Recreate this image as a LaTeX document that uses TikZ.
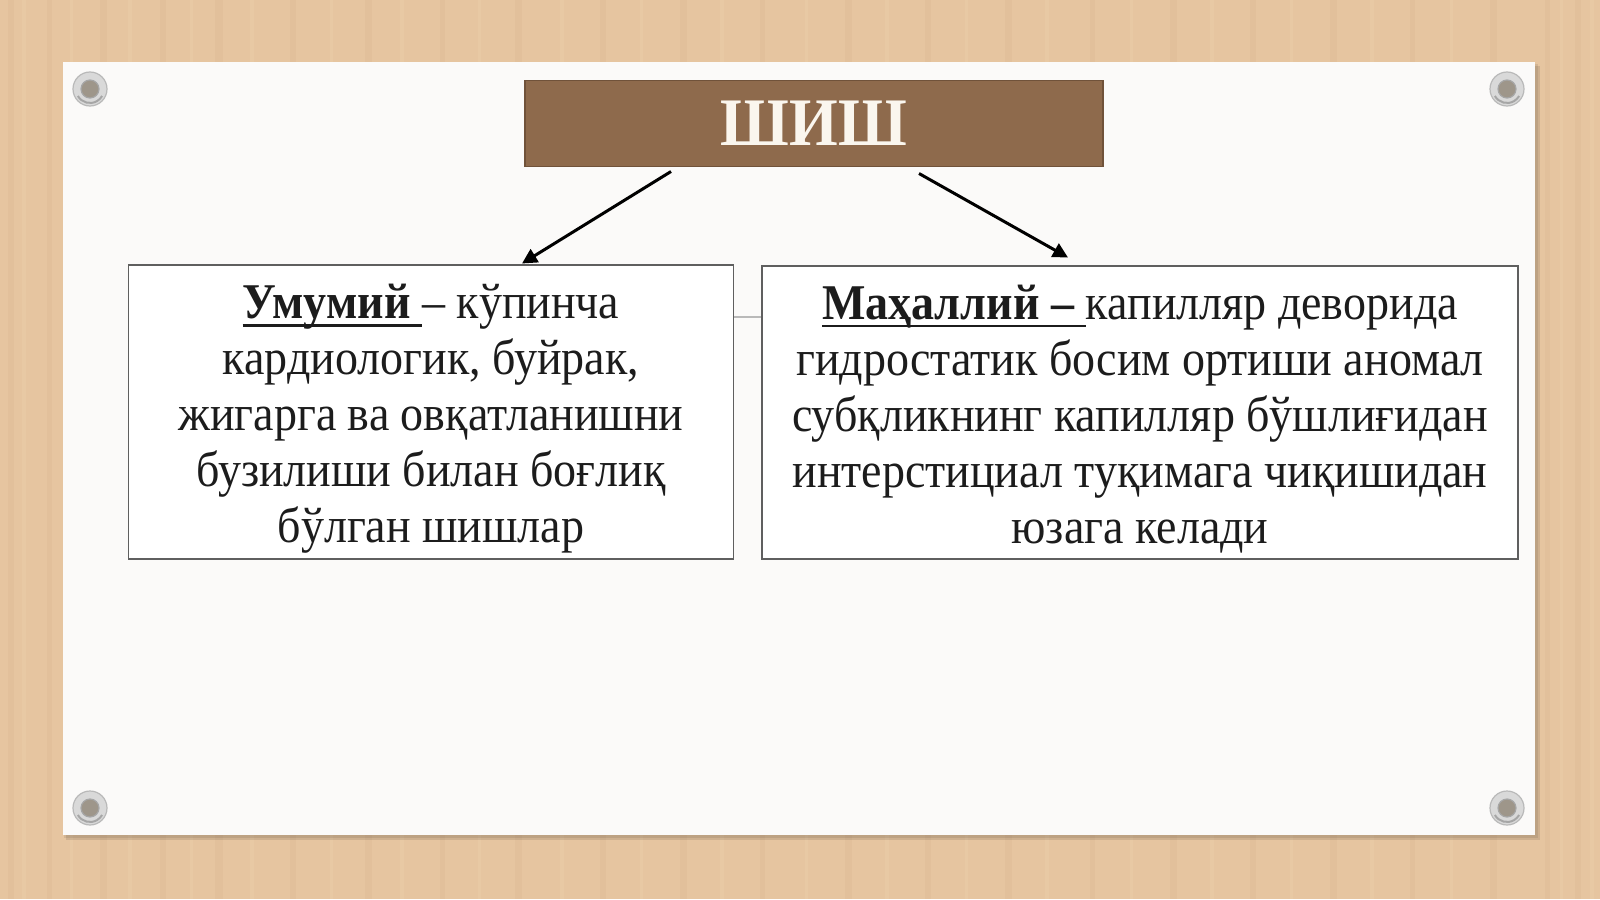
\documentclass[tikz,border=0pt]{standalone}
\usepackage{fontspec}
\setmainfont[FakeStretch=0.92]{Liberation Serif}
\usetikzlibrary{arrows.meta}
\definecolor{wood}{RGB}{230,197,160}
\definecolor{woodA}{RGB}{220,186,148}
\definecolor{woodB}{RGB}{237,207,172}
\definecolor{board}{RGB}{251,250,249}
\definecolor{titlefill}{RGB}{142,106,76}
\definecolor{titleedge}{RGB}{112,82,58}
\definecolor{titletext}{RGB}{250,246,238}
\definecolor{boxedge}{RGB}{95,95,95}
\definecolor{ink}{RGB}{28,28,28}
\definecolor{pinhole}{RGB}{158,150,138}
\newcommand\myul[1]{\setbox0\hbox{#1}\rlap{\rule[-8pt]{\wd0}{2.4pt}}\box0}
\tikzset{
  textbox/.style={draw=boxedge, line width=1.6pt, fill=white, inner sep=0pt},
  boxtext/.style={align=center, text=ink, inner sep=0pt, font=\fontsize{50}{56}\selectfont},
  conn/.style={line width=3pt, black, -{Triangle[length=15pt,width=15pt]}},
  pin/.style={circle, fill=gray!30, draw=gray!55, line width=1.2pt, minimum size=34pt, inner sep=0pt},
  pinhole/.style={circle, fill=pinhole, draw=gray!70, line width=1.2pt, minimum size=18pt, inner sep=0pt}
}
\begin{document}
\begin{tikzpicture}[x=1pt,y=-1pt]
\useasboundingbox (0,0) rectangle (1600,899);
% wood background
\fill[wood] (0,0) rectangle (1600,899);
\foreach \xa/\w/\c in {8/6/woodA,22/4/woodB,47/5/woodA,70/3/woodB,100/7/woodA,128/4/woodB,160/6/woodA,190/3/woodB,215/8/woodA,250/4/woodB,290/6/woodA,330/3/woodB,365/7/woodA,400/4/woodB,440/5/woodA,478/3/woodB,515/7/woodA,560/4/woodB,600/6/woodA,640/3/woodB,680/7/woodA,720/4/woodB,760/5/woodA,805/3/woodB,845/7/woodA,885/4/woodB,925/6/woodA,965/3/woodB,1005/7/woodA,1045/4/woodB,1090/5/woodA,1130/3/woodB,1170/7/woodA,1210/4/woodB,1250/6/woodA,1290/3/woodB,1330/7/woodA,1370/4/woodB,1410/5/woodA,1450/3/woodB,1490/7/woodA,1545/5/woodA,1560/3/woodB,1575/6/woodA,1590/4/woodB}
  \fill[\c, opacity=0.4] (\xa,0) rectangle ++(\w,899);
% board with shadow
\fill[black, opacity=0.10] (66,66) rectangle (1540,840);
\fill[black, opacity=0.08] (64,64) rectangle (1538,838);
\fill[board] (63,62) rectangle (1535,835);
% pins
\foreach \n/\px/\py in {p1/90/89, p2/1507/89, p3/90/808, p4/1507/808}{
  \node[pin] (\n) at (\px,\py) {};
  \draw[gray!70, line width=2pt] ([shift={(-150:14pt)}]\n.center) arc[start angle=-150, end angle=-30, radius=14pt];
  \node[pinhole] (\n h) at (\px,\py) {};
}
% title
\node[draw=titleedge, fill=titlefill, line width=1.2pt, minimum width=578pt, minimum height=86pt,
  inner sep=0pt, text=titletext, font=\fontsize{68}{70}\selectfont\bfseries] (title) at (814,123.5) {ШИШ};
% boxes
\node[textbox, minimum width=605pt, minimum height=294pt] (lbox) at (431,412) {};
\node[textbox, minimum width=756pt, minimum height=293pt] (rbox) at (1140,412.5) {};
\node[boxtext] (ltext) at (431,419)
  {\myul{\textbf{Умумий} }– кўпинча\\ кардиологик, буйрак,\\ жигарга ва овқатланишни\\ бузилиши билан боғлиқ\\ бўлган шишлар};
\node[boxtext] (rtext) at (1140,419)
  {\myul{\textbf{Маҳаллий –} }капилляр деворида\\ гидростатик босим ортиши аномал\\ субқликнинг капилляр бўшлиғидан\\ интерстициал туқимага чиқишидан\\ юзага келади};
% thin link between boxes
\coordinate (lk) at (lbox.east |- 0,317);
\draw[gray!55, line width=1.4pt] (lk) -- (lk -| rbox.west);
% arrows
\coordinate (a1s) at (671,171.5);
\coordinate (a1e) at (522,263.5);
\coordinate (a2s) at (919,173.5);
\coordinate (a2e) at (1068,257.5);
\draw[conn] (a1s) -- (a1e);
\draw[conn] (a2s) -- (a2e);
\end{tikzpicture}
\end{document}
